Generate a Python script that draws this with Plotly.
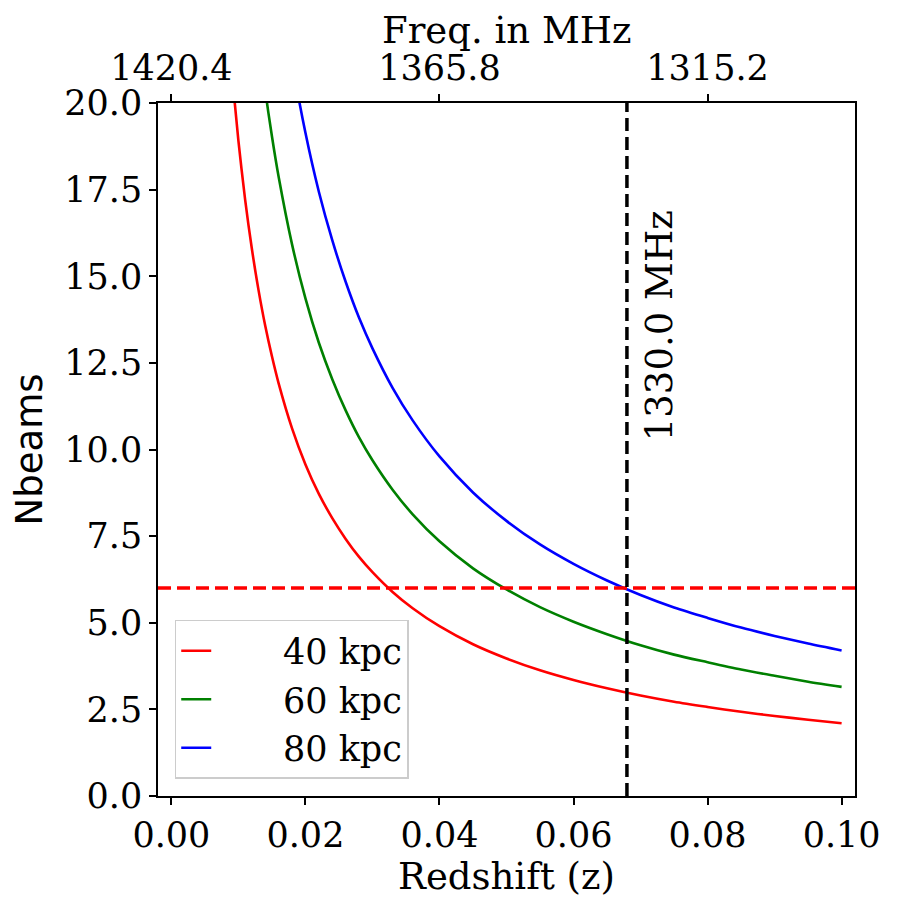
import plotly.graph_objects as go

# redshift grid and Nbeams
z = [0.008, 0.009, 0.010, 0.011, 0.012, 0.013, 0.014, 0.015, 0.016, 0.018,
     0.020, 0.022, 0.024, 0.026, 0.028, 0.030, 0.033, 0.036, 0.040, 0.045,
     0.050, 0.055, 0.060, 0.065, 0.070, 0.075, 0.080, 0.085, 0.090, 0.095, 0.100]
nbeams_40 = [23.58, 20.99, 18.91, 17.21, 15.80, 14.60, 13.57, 12.69, 11.91, 10.61,
             9.57, 8.72, 8.02, 7.42, 6.90, 6.46, 5.89, 5.42, 4.90, 4.38,
             3.97, 3.63, 3.35, 3.11, 2.90, 2.72, 2.57, 2.43, 2.31, 2.20, 2.10]
nbeams_60 = [35.37, 31.49, 28.37, 25.82, 23.70, 21.90, 20.36, 19.04, 17.87, 15.92,
             14.36, 13.08, 12.03, 11.13, 10.35, 9.69, 8.84, 8.13, 7.35, 6.57,
             5.96, 5.45, 5.03, 4.67, 4.35, 4.08, 3.86, 3.65, 3.47, 3.30, 3.15]
nbeams_80 = [47.16, 41.98, 37.82, 34.42, 31.60, 29.20, 27.14, 25.38, 23.82, 21.22,
             19.14, 17.44, 16.04, 14.84, 13.80, 12.92, 11.78, 10.84, 9.80, 8.76,
             7.94, 7.26, 6.70, 6.22, 5.80, 5.44, 5.14, 4.86, 4.62, 4.40, 4.20]

labels = ["40 kpc", "60 kpc", "80 kpc"]
colors = ["#ff0000", "#008000", "#0000ff"]

nbeams_limit = 6.0
f_rest = 1420.4
f_cut = 1330.0
z_cut = f_rest / f_cut - 1

top_tick_z = [0.0, 0.04, 0.08]
top_tick_text = ["1420.4", "1365.8", "1315.2"]

serif = "DejaVu Serif"

fig = go.Figure()
for ys, name, col in zip([nbeams_40, nbeams_60, nbeams_80], labels, colors):
    fig.add_trace(go.Scatter(x=z, y=ys, mode="lines",
                             name="\u00a0" * 6 + name,
                             line=dict(color=col, width=2.6, shape="spline",
                                       smoothing=0.8)))

fig.add_shape(type="line", xref="x domain", yref="y", x0=0, x1=1,
              y0=nbeams_limit, y1=nbeams_limit,
              line=dict(color="#ff0000", width=3.5, dash="13px,6px"))
fig.add_shape(type="line", xref="x", yref="y domain", x0=z_cut, x1=z_cut,
              y0=0, y1=1, line=dict(color="black", width=3.5, dash="13px,6px"))

fig.add_annotation(x=z_cut + 0.0049, y=13.58, text=f"{f_cut:.1f} MHz",
                   textangle=-90, showarrow=False,
                   font=dict(family=serif, size=37, color="black"))
# top axis title
fig.add_annotation(x=0.5, y=1.105, xref="paper", yref="paper",
                   text="Freq. in MHz", showarrow=False, yanchor="middle",
                   font=dict(family=serif, size=37, color="black"))

axis_common = dict(showline=True, linecolor="black", linewidth=1.5,
                   ticks="outside", ticklen=7, tickwidth=1.5, tickcolor="black",
                   showgrid=False, zeroline=False, automargin=False,
                   tickfont=dict(family=serif, size=35, color="black"))

# the page adds an 8px body margin, so the figure is 8px smaller each way
fig.update_layout(
    width=891, height=899,
    margin=dict(l=150, r=44, t=95, b=111),
    paper_bgcolor="white", plot_bgcolor="white",
    xaxis=dict(range=[-0.002, 0.102], tickvals=[0, 0.02, 0.04, 0.06, 0.08, 0.10],
               tickformat=".2f", mirror=True,
               title=dict(text="Redshift (z)",
                          font=dict(family=serif, size=37, color="black"),
                          standoff=4),
               **axis_common),
    xaxis2=dict(range=[-0.002, 0.102], overlaying="x", side="top",
                tickvals=top_tick_z, ticktext=top_tick_text,
                **axis_common),
    yaxis=dict(range=[0, 20], tickvals=[0, 2.5, 5, 7.5, 10, 12.5, 15, 17.5, 20],
               tickformat=".1f", mirror=True,
               title=dict(text="Nbeams",
                          font=dict(family="DejaVu Sans", size=37, color="black"),
                          standoff=14),
               **axis_common),
    legend=dict(x=0.024, y=0.254, xanchor="left", yanchor="top",
                bgcolor="rgba(255,255,255,0.8)", bordercolor="#cccccc",
                borderwidth=1.5, tracegroupgap=0,
                font=dict(family=serif, size=35, color="black")),
    showlegend=True,
)
fig.add_trace(go.Scatter(x=[None], y=[None], xaxis="x2", showlegend=False,
                         hoverinfo="skip"))

fig.write_html("out.html")
